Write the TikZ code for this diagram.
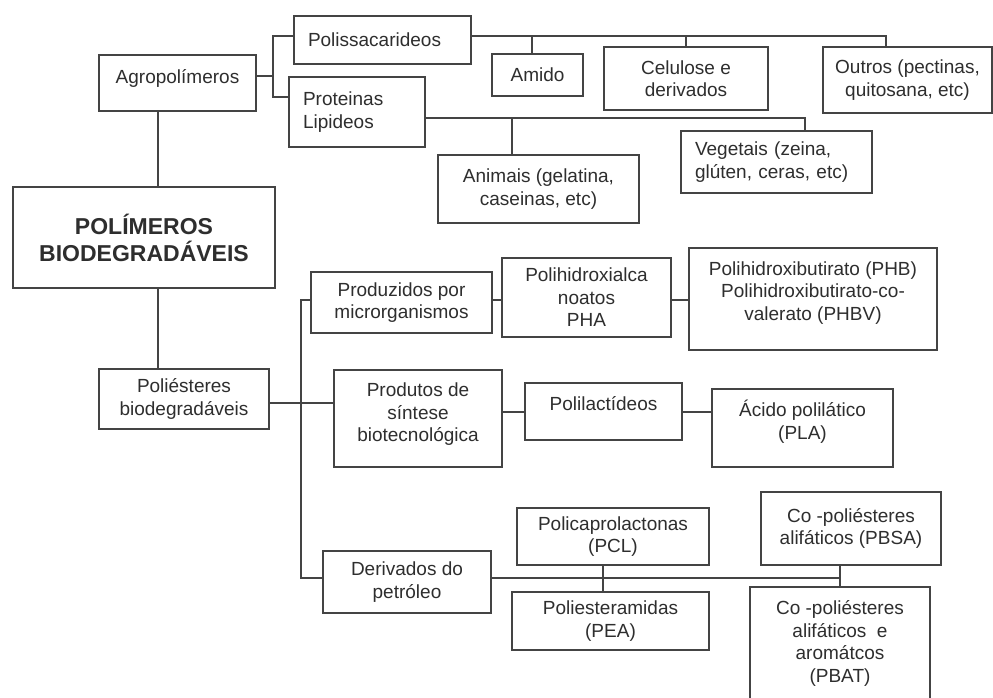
\documentclass[tikz,border=0pt]{standalone}
\usepackage{fontspec}
\setmainfont{Liberation Sans}
\definecolor{ln}{HTML}{444444}
\definecolor{tx}{HTML}{2E2E2E}
\tikzset{
  box/.style={draw=ln, line width=1.8pt, rectangle, inner sep=4pt, align=center,
    text=tx, font=\fontsize{19}{22.5}\selectfont},
  lft/.style={align=left, inner xsep=14pt},
  conn/.style={draw=ln, line width=1.8pt},
}
\newcommand\bx[7][]{%
  \node[box, minimum width={(#5-#3)*1pt}, minimum height={(#6-#4)*1pt}, #1]
    (#2) at ({(#3+#5)/2},{(#4+#6)/2}) {#7};}
\begin{document}
\begin{tikzpicture}[x=1pt,y=-1pt]
\useasboundingbox[fill=white] (0,0) rectangle (993,697);
% boxes
\bx[lft, text width={149pt}]{polis}{294}{16}{471}{64}{Polissacarideos\\[-12.5pt]}
\bx{agro}{99}{55}{256}{111}{Agropolímeros\\[-8.5pt]}
\bx[lft, text width={108pt}]{prot}{289}{77}{425}{147}{Proteinas\\Lipideos}
\bx{amido}{492}{54}{583}{96}{Amido}
\bx{celu}{604}{47}{768}{110}{Celulose e\\derivados}
\bx{outros}{823}{47}{992}{113}{Outros (pectinas,\\quitosana, etc)}
\bx{anim}{438}{155}{639}{223}{Animais (gelatina,\\caseinas, etc)}
\bx[lft, text width={163pt}]{veget}{681}{131}{872}{193}{Vegetais (zeina,\\glúten, ceras, etc)}
\bx[font=\bfseries\fontsize{23}{27}\selectfont]{polim}{13}{187}{275}{288}{POLÍMEROS\\BIODEGRADÁVEIS}
\bx{polie}{99}{369}{269}{429}{Poliésteres\\biodegradáveis}
\bx{produz}{311}{272}{492}{333}{Produzidos por\\microrganismos}
\bx{pha}{502}{258}{671}{337}{Polihidroxialca\\noatos\\PHA}
\bx{phb}{689}{248}{937}{350}{Polihidroxibutirato (PHB)\\Polihidroxibutirato-co-\\valerato (PHBV)\\[-6pt]}
\bx{produt}{334}{370}{502}{467}{Produtos de\\síntese\\biotecnológica\\[-10.5pt]}
\bx{plact}{525}{383}{682}{440}{Polilactídeos\\[-5.5pt]}
\bx{acido}{712}{389}{893}{467}{Ácido polilático\\(PLA)\\[-6pt]}
\bx{deriv}{323}{551}{491}{613}{Derivados do\\petróleo}
\bx{pcl}{517}{508}{709}{565}{Policaprolactonas\\(PCL)}
\bx{pea}{512}{592}{709}{650}{Poliesteramidas\\(PEA)}
\bx{pbsa}{761}{492}{941}{565}{Co -poliésteres\\alifáticos (PBSA)}
\bx{pbat}{750}{587}{930}{700}{Co -poliésteres\\alifáticos\ \ e\\aromátcos\\(PBAT)}
% junction coordinates
\coordinate (j1) at (273,76);
\coordinate (j1a) at (273,36);
\coordinate (j1b) at (273,97);
\coordinate (t1) at (886,36);
\coordinate (ta) at (532,36);
\coordinate (t2) at (805,118);
\coordinate (tb) at (512,118);
\coordinate (v1) at (158,111);
\coordinate (v2) at (158,288);
\coordinate (k0) at (301,403);
\coordinate (ktop) at (301,300);
\coordinate (kbot) at (301,578);
\coordinate (q1) at (513,412);
\coordinate (p1) at (603,578);
\coordinate (p2) at (840,578);
% connectors
\draw[conn] (agro.east |- j1) -- (j1);
\draw[conn] (polis.west |- j1a) -| (j1b) -- (prot.west |- j1b);
\draw[conn] (polis.east |- t1) -- (t1) -- (t1 |- outros.north);
\draw[conn] (ta) -- (ta |- amido.north);
\draw[conn] (celu.north |- t1) -- (celu.north);
\draw[conn] (prot.east |- t2) -- (t2) -- (t2 |- veget.north);
\draw[conn] (tb) -- (tb |- anim.north);
\draw[conn] (v1) -- (v1 |- polim.north);
\draw[conn] (v2) -- (v2 |- polie.north);
\draw[conn] (polie.east |- k0) -- (produt.west |- k0);
\draw[conn] (produz.west |- ktop) -- (ktop) -- (kbot) -- (deriv.west |- kbot);
\draw[conn] (produz.east |- ktop) -- (pha.west |- ktop);
\draw[conn] (pha.east |- ktop) -- (phb.west |- ktop);
\draw[conn] (produt.east |- q1) -- (plact.west |- q1);
\draw[conn] (plact.east |- q1) -- (acido.west |- q1);
\draw[conn] (deriv.east |- p1) -- (p2);
\draw[conn] (p1 |- pcl.south) -- (p1 |- pea.north);
\draw[conn] (p2 |- pbsa.south) -- (p2 |- pbat.north);
\end{tikzpicture}
\end{document}
